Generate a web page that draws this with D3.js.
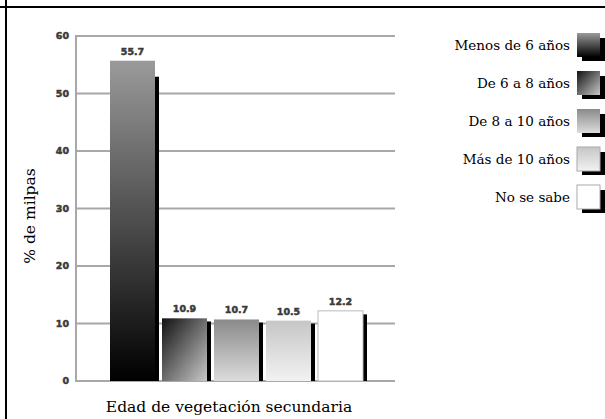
<!DOCTYPE html>
<html>
<head>
<meta charset="utf-8">
<script src="https://cdn.jsdelivr.net/npm/d3@7"></script>
<style>
    body { margin: 0; background: #fff; }
    svg { display: block; }
    .tick-label, .value-label {
        font-family: "DejaVu Sans", sans-serif;
        font-weight: bold;
        font-size: 9.5px;
        fill: #3a3a3a;
        stroke: #3a3a3a;
        stroke-width: 0.5px;
    }
    .title, .legend-label {
        font-family: "DejaVu Serif", serif;
        fill: #000;
    }
</style>
</head>
<body>
<svg width="605" height="419"></svg>
<script>
/*jslint browser: true */
/*global d3 */

var categories = [
    "Menos de 6 años",
    "De 6 a 8 años",
    "De 8 a 10 años",
    "Más de 10 años",
    "No se sabe"
];
var values = [55.7, 10.9, 10.7, 10.5, 12.2];
var yTicks = [0, 10, 20, 30, 40, 50, 60];
var yTitle = "% de milpas";
var xTitle = "Edad de vegetación secundaria";

(function () {
    "use strict";

    var svg = d3.select("svg");
    var plot = {
        left: 76, // px
        right: 395, // px
        top: 36, // px
        bottom: 381 // px
    };
    var shadowWidth = 4; // px

    var yScale = d3.scaleLinear()
        .domain([0, 60])
        .range([plot.bottom, plot.top]);
    var xScale = d3.scaleBand()
        .domain(categories)
        .range([110, 370])
        .paddingInner(0);
    var barWidth = xScale.bandwidth() - 7;

    // gradient fills, one per category
    var defs = svg.append("defs");
    var gradients = [
        {x2: "0", y2: "1", stops: ["#9a9a9a", "#000"]},
        {x2: "1", y2: "1", stops: ["#111", "#c8c8c8"]},
        {x2: "0", y2: "1", stops: ["#8a8a8a", "#dcdcdc"]},
        {x2: "0", y2: "1", stops: ["#c6c6c6", "#f2f2f2"]},
        {x2: "0", y2: "1", stops: ["#fff", "#fff"]}
    ];
    gradients.forEach(function (g, i) {
        var lg = defs.append("linearGradient")
            .attr("id", "grad" + i)
            .attr("x1", "0").attr("y1", "0")
            .attr("x2", g.x2).attr("y2", g.y2);
        lg.append("stop").attr("offset", "0").attr("stop-color", g.stops[0]);
        lg.append("stop").attr("offset", "1").attr("stop-color", g.stops[1]);
    });

    // frame
    svg.append("line")
        .attr("x1", 0).attr("x2", 605)
        .attr("y1", 7).attr("y2", 7)
        .attr("stroke", "#000").attr("stroke-width", 2);
    svg.append("line")
        .attr("x1", 6).attr("x2", 6)
        .attr("y1", 0).attr("y2", 419)
        .attr("stroke", "#000").attr("stroke-width", 2);

    // gridlines and y axis
    svg.append("g")
        .selectAll("line")
        .data(yTicks)
        .join("line")
        .attr("x1", plot.left)
        .attr("x2", plot.right)
        .attr("y1", function (d) { return yScale(d); })
        .attr("y2", function (d) { return yScale(d); })
        .attr("stroke", "#a8a8a8")
        .attr("stroke-width", 2);
    svg.append("line")
        .attr("x1", plot.left).attr("x2", plot.left)
        .attr("y1", plot.top - 1).attr("y2", plot.bottom + 1)
        .attr("stroke", "#a8a8a8")
        .attr("stroke-width", 2);
    svg.append("g")
        .selectAll("text")
        .data(yTicks)
        .join("text")
        .attr("class", "tick-label")
        .attr("x", 69)
        .attr("y", function (d) { return yScale(d); })
        .attr("dy", "0.35em")
        .attr("text-anchor", "end")
        .text(function (d) { return d; });

    // bars with shadow
    var bars = svg.append("g")
        .selectAll("g")
        .data(values)
        .join("g");
    bars.append("rect")
        .attr("x", function (d, i) { return xScale(categories[i]) + barWidth; })
        .attr("y", function (d) { return yScale(d * 0.95); })
        .attr("width", shadowWidth)
        .attr("height", function (d) { return yScale(0) - yScale(d * 0.95); })
        .attr("fill", "#000");
    bars.append("rect")
        .attr("x", function (d, i) { return xScale(categories[i]); })
        .attr("y", function (d) { return yScale(d); })
        .attr("width", barWidth)
        .attr("height", function (d) { return yScale(0) - yScale(d); })
        .attr("fill", function (d, i) { return "url(#grad" + i + ")"; })
        .attr("stroke", function (d, i) { return i === 4 ? "#bbb" : "none"; })
        .attr("stroke-width", 1);
    bars.append("text")
        .attr("class", "value-label")
        .attr("x", function (d, i) {
            return xScale(categories[i]) + barWidth / 2;
        })
        .attr("y", function (d) { return yScale(d) - 6; })
        .attr("text-anchor", "middle")
        .text(function (d) { return d; });

    // titles
    svg.append("text")
        .attr("class", "title")
        .attr("transform", "translate(35,216) rotate(-90)")
        .attr("text-anchor", "middle")
        .attr("font-size", "15.5px")
        .text(yTitle);
    svg.append("text")
        .attr("class", "title")
        .attr("x", 229)
        .attr("y", 412)
        .attr("text-anchor", "middle")
        .attr("font-size", "15.5px")
        .text(xTitle);

    // legend
    var legend = svg.append("g")
        .selectAll("g")
        .data(categories)
        .join("g")
        .attr("transform", function (d, i) {
            return "translate(0," + (45 + i * 38) + ")";
        });
    legend.append("rect")
        .attr("x", 582).attr("y", -7)
        .attr("width", 23).attr("height", 23)
        .attr("fill", "#000");
    legend.append("rect")
        .attr("x", 577).attr("y", -12)
        .attr("width", 23).attr("height", 24)
        .attr("fill", function (d, i) { return "url(#grad" + i + ")"; })
        .attr("stroke", function (d, i) { return i >= 3 ? "#aaa" : "none"; });
    legend.append("text")
        .attr("class", "legend-label")
        .attr("x", 570)
        .attr("y", 0)
        .attr("dy", "0.35em")
        .attr("text-anchor", "end")
        .attr("font-size", "13.5px")
        .text(function (d) { return d; });
}());
</script>
</body>
</html>
